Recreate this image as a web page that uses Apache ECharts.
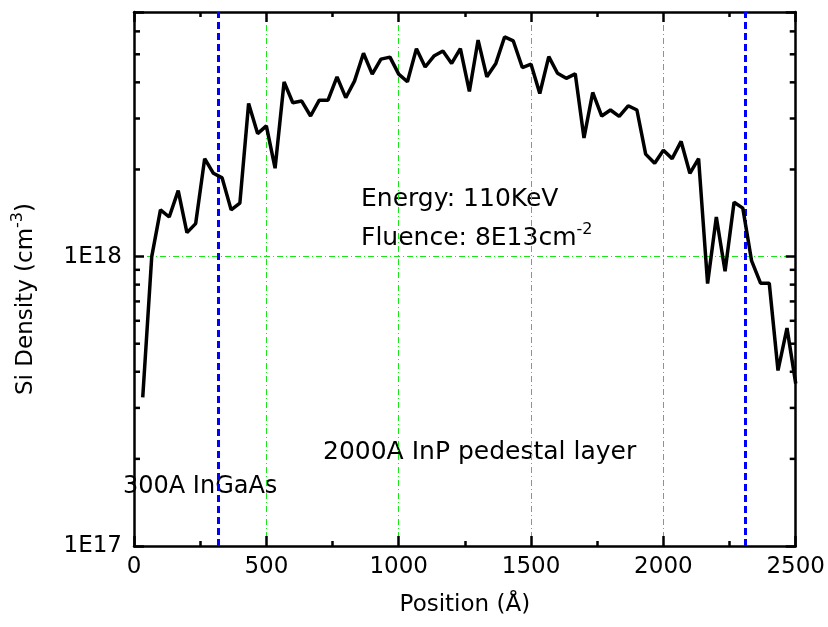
<!DOCTYPE html>
<html>
<head>
<meta charset="utf-8">
<script src="https://cdn.jsdelivr.net/npm/echarts@6/dist/echarts.min.js"></script>
<style>
  html, body { margin: 0; padding: 0; background: #fff; }
  #main { width: 828px; height: 627px; }
</style>
</head>
<body>
<div id="main"></div>
<script>
// position (Å) and Si density (cm^-3)
var positions = [33, 67, 100, 133, 167, 200, 233, 267, 300, 333, 367, 400, 433, 467, 500,
  533, 567, 600, 633, 667, 700, 733, 767, 800, 833, 867, 900, 933, 967, 1000,
  1033, 1067, 1100, 1133, 1167, 1200, 1233, 1267, 1300, 1333, 1367, 1400, 1433, 1467, 1500,
  1533, 1567, 1600, 1633, 1667, 1700, 1733, 1767, 1800, 1833, 1867, 1900, 1933, 1967, 2000,
  2033, 2067, 2100, 2133, 2167, 2200, 2233, 2267, 2300, 2333, 2367, 2400, 2433, 2467, 2500];
var density = [3.26e17, 1.0e18, 1.45e18, 1.37e18, 1.69e18, 1.21e18, 1.30e18, 2.18e18, 1.94e18, 1.87e18,
  1.45e18, 1.53e18, 3.38e18, 2.66e18, 2.83e18, 2.02e18, 4.01e18, 3.40e18, 3.45e18, 3.06e18,
  3.47e18, 3.47e18, 4.18e18, 3.54e18, 4.04e18, 5.04e18, 4.27e18, 4.81e18, 4.89e18, 4.27e18,
  4.02e18, 5.23e18, 4.52e18, 4.93e18, 5.13e18, 4.65e18, 5.23e18, 3.72e18, 5.60e18, 4.18e18,
  4.65e18, 5.74e18, 5.56e18, 4.50e18, 4.62e18, 3.66e18, 4.91e18, 4.30e18, 4.13e18, 4.28e18,
  2.57e18, 3.69e18, 3.06e18, 3.21e18, 3.05e18, 3.32e18, 3.21e18, 2.26e18, 2.10e18, 2.33e18,
  2.18e18, 2.50e18, 1.94e18, 2.18e18, 8.07e17, 1.37e18, 8.90e17, 1.54e18, 1.47e18, 9.69e17,
  8.09e17, 8.09e17, 4.04e17, 5.66e17, 3.64e17];
// layer boundaries (blue dashed)
var boundaries = [320, 2310];
// x tick labels & log-axis minor tick values
var xTicks = [0, 500, 1000, 1500, 2000, 2500];
var yMinorTicks = [2e17, 3e17, 4e17, 5e17, 6e17, 7e17, 8e17, 9e17, 2e18, 3e18, 4e18, 5e18, 6e18];

var FONT = "DejaVu Sans";
var GREEN = "#19e619";

var chart = echarts.init(document.getElementById("main"));

var xBase = {
  type: "value",
  min: 0,
  max: 2500,
  interval: 500,
  axisLine: { show: true, onZero: false, lineStyle: { color: "#000", width: 2.5 } },
  axisTick: { show: true, inside: true, length: 10, lineStyle: { color: "#000", width: 2.5 } },
  minorTick: { show: true, splitNumber: 2, length: 5, lineStyle: { color: "#000", width: 2.5 } },
  splitLine: { show: false }
};
var yBase = {
  type: "log",
  logBase: 10,
  min: 1e17,
  max: 7e18,
  axisLine: { show: true, onZero: false, lineStyle: { color: "#000", width: 2.5 } },
  axisTick: { show: true, inside: true, length: 10, lineStyle: { color: "#000", width: 2.5 } },
  splitLine: { show: false }
};

function powLabel(v) {
  var e = Math.log10(v);
  if (Math.abs(e - Math.round(e)) < 1e-6) return "1E" + Math.round(e);
  return "";
}

function supRich(size) {
  return {
    a: { fontFamily: FONT, fontSize: size, lineHeight: 32, fill: "#000" },
    s: { fontFamily: FONT, fontSize: 16, lineHeight: 16, verticalAlign: "top", fill: "#000" }
  };
}

chart.setOption({
  animation: false,
  grid: { left: 134, right: 32, top: 12, bottom: 81 },
  xAxis: [
    Object.assign({}, xBase, {
      position: "bottom",
      axisLabel: {
        color: "#000", fontFamily: FONT, fontSize: 23, margin: 10,
        formatter: function (v) { return xTicks.indexOf(v) >= 0 ? String(v) : ""; }
      },
      splitLine: { show: true, lineStyle: { color: GREEN, width: 1, type: [6, 3, 1, 3] } },
      name: "Position (\u00C5)",
      nameLocation: "middle",
      nameGap: 48,
      nameTextStyle: { color: "#000", fontFamily: FONT, fontSize: 23 }
    }),
    Object.assign({}, xBase, { position: "top", axisLabel: { show: false } })
  ],
  yAxis: [
    Object.assign({}, yBase, {
      position: "left",
      axisLabel: { color: "#000", fontFamily: FONT, fontSize: 23, margin: 12, formatter: powLabel },
      splitLine: { show: true, lineStyle: { color: GREEN, width: 1, type: [6, 3, 1, 3] } }
    }),
    Object.assign({}, yBase, { position: "right", axisLabel: { show: false } })
  ],
  graphic: [
    {
      type: "text", left: 10, top: 203, rotation: Math.PI / 2,
      style: { text: "{a|Si Density (cm}{s|-3}{a|)}", rich: supRich(23) }
    },
    { type: "text", left: 361, top: 187, style: { text: "Energy: 110KeV", fontFamily: FONT, fontSize: 25, fill: "#000" } },
    {
      type: "text", left: 361, top: 222,
      style: { text: "{a|Fluence: 8E13cm}{s|-2}", rich: supRich(25) }
    },
    { type: "text", left: 323, top: 440, style: { text: "2000A InP pedestal layer", fontFamily: FONT, fontSize: 25, fill: "#000" } },
    { type: "text", left: 123, top: 475, style: { text: "300A InGaAs", fontFamily: FONT, fontSize: 24, fill: "#000" } }
  ],
  series: [
    {
      name: "Si",
      type: "line",
      xAxisIndex: 0,
      yAxisIndex: 0,
      data: positions.map(function (x, i) { return [x, density[i]]; }),
      symbol: "none",
      lineStyle: { color: "#000", width: 3.5 },
      z: 5,
      markLine: {
        silent: true,
        symbol: "none",
        label: { show: false },
        lineStyle: { color: "#0000ff", width: 3, type: [7, 4] },
        data: boundaries.map(function (b) { return { xAxis: b }; })
      }
    },
    {
      // minor ticks for the log axes (2..9 per decade), both sides
      type: "custom",
      xAxisIndex: 0,
      yAxisIndex: 0,
      silent: true,
      data: yMinorTicks.map(function (v) { return [0, v]; }),
      renderItem: function (params, api) {
        var v = api.value(1);
        var l = api.coord([0, v]);
        var r = api.coord([2500, v]);
        var st = { stroke: "#000", lineWidth: 2.5 };
        return {
          type: "group",
          children: [
            { type: "line", shape: { x1: l[0], y1: l[1], x2: l[0] + 6, y2: l[1] }, style: st },
            { type: "line", shape: { x1: r[0], y1: r[1], x2: r[0] - 6, y2: r[1] }, style: st }
          ]
        };
      }
    }
  ]
});
</script>
</body>
</html>
